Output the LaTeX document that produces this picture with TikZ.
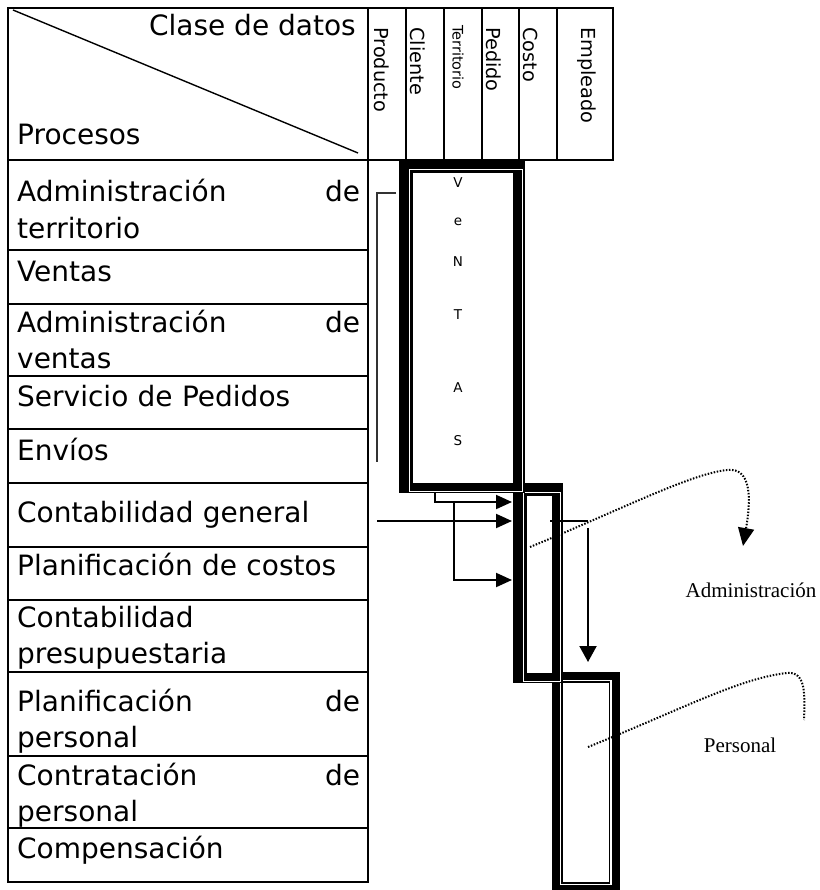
\documentclass[tikz,border=0pt]{standalone}
\usepackage{fontspec}
\setmainfont{DejaVu Sans}
\newfontfamily\tnr{Liberation Serif}
\usetikzlibrary{arrows.meta}

\begin{document}
\begin{tikzpicture}[x=1pt,y=-1pt,
		tbl/.style={line width=1.8pt},
		rowtxt/.style={anchor=base west,inner sep=0pt,text width=343pt,font=\fontsize{28}{36.5}\selectfont},
		colhead/.style={rotate=-90,anchor=west,inner sep=0pt,font=\fontsize{19.3}{20}\selectfont},
		vletter/.style={inner sep=0pt,font=\fontsize{13.5}{14}\selectfont},
		conn/.style={line width=2pt,-{Triangle[length=16pt,width=14pt]}},
		dotline/.style={line width=2pt,dash pattern=on 1.5pt off 1.6pt},
		lbl/.style={anchor=base,inner sep=0pt,font=\tnr\fontsize{21}{24}\selectfont}]
		\useasboundingbox (0,0) rectangle (819,890);
		% tabla de procesos
		\foreach \a/\b in {8/160,160/250,250/304,304/376,376/429,429/483,483/547,547/600,600/672,672/756,756/828,828/882}
			\draw[tbl] (8,\a) rectangle (368,\b);
		\foreach \a/\b in {368/406,406/444,444/482,482/519,519/557,557/613}
			\draw[tbl] (\a,8) rectangle (\b,160);
		\draw[line width=1.4pt] (13,10) -- (358,153);
		\node (CD) at (356,36) [anchor=base east,inner sep=0pt,font=\fontsize{28}{33}\selectfont] {Clase de datos};
		\node (PR) at (17,145) [anchor=base west,inner sep=0pt,font=\fontsize{28}{33}\selectfont] {Procesos};
		\node (C1) at (382,27) [colhead] {Producto};
		\node (C2) at (418,27) [colhead] {Cliente};
		\node (C3) at (458,25) [colhead,font=\fontsize{14.5}{15}\selectfont] {Territorio};
		\node (C4) at (494,27) [colhead] {Pedido};
		\node (C5) at (531,27) [colhead] {Costo};
		\node (C6) at (587,27) [colhead] {Empleado};
		\node (P1) at (17,202) [rowtxt] {Administración\hfill de\\territorio};
		\node (P2) at (17,281) [rowtxt] {Ventas};
		\node (P3) at (17,332) [rowtxt] {Administración\hfill de\\ventas};
		\node (P4) at (17,406) [rowtxt] {Servicio de Pedidos};
		\node (P5) at (17,460) [rowtxt] {Envíos};
		\node (P6) at (17,522) [rowtxt] {Contabilidad general};
		\node (P7) at (17,575) [rowtxt] {Planificación de costos};
		\node (P8) at (17,627) [rowtxt] {Contabilidad\\presupuestaria};
		\node (P9) at (17,711) [rowtxt] {Planificación\hfill de\\personal};
		\node (P10) at (17,785) [rowtxt] {Contratación\hfill de\\personal};
		\node (P11) at (17,858) [rowtxt] {Compensación};
		% bloques
		\fill (552,672) rectangle (620,893);
		\draw[white,line width=1.5pt] (560.3,680.5) rectangle (611,884.5);
		\fill[white] (563,683) rectangle (608.5,882);
		\fill (513,483) rectangle (563,683);
		\draw[white,line width=1.5pt] (523.5,492.5) rectangle (560.5,681.5);
		\fill[white] (527,496) rectangle (552,673);
		\fill (399,160) rectangle (525,493);
		\draw[white,line width=1.5pt] (409.5,169.5) rectangle (522.5,491.5);
		\fill[white] (413,173) rectangle (513,483);
		\foreach \l/\y [count=\i] in {V/183,e/222,N/262,T/315,A/388,S/441}
			\node (V\i) at (458,\y) [vletter] {\l};
		% flechas
		\coordinate (k1) at (396,193);
		\coordinate (k2) at (377,462);
		\draw[line width=1.3pt,black!80] (k1) -| (k2);
		\coordinate (b1) at (435,493);
		\coordinate (b2) at (512,502);
		\draw[conn] (b1) |- (b2);
		\coordinate (g1) at (377,521);
		\coordinate (g2) at (512,521);
		\draw[conn] (g1) -- (g2);
		\coordinate (s1) at (454,502);
		\coordinate (s2) at (512,580);
		\draw[conn] (s1) |- (s2);
		\coordinate (h1) at (550,521);
		\coordinate (h2) at (588,521);
		\draw[line width=2pt] (h1) -- (h2);
		\coordinate (d1) at (588,528);
		\coordinate (d2) at (588,662);
		\draw[line width=2pt,-{Triangle[length=16pt,width=17pt]}] (d1) -- (d2);
		\coordinate (a1) at (530,547);
		\coordinate (a2) at (743,546);
		\draw[dotline,-{Triangle[length=18pt,width=16pt]}] (a1) .. controls (620,510) and (690,474) .. (727,470) .. controls (752,467) and (751,500) .. (a2);
		\coordinate (e1) at (588,747);
		\coordinate (e2) at (804,720);
		\draw[dotline] (e1) .. controls (680,710) and (740,678) .. (787,673) .. controls (806,671) and (805,695) .. (e2);
		\node (AD) at (751,597) [lbl] {Administración};
		\node (PE) at (740,752) [lbl] {Personal};
	\end{tikzpicture}
\end{document}
